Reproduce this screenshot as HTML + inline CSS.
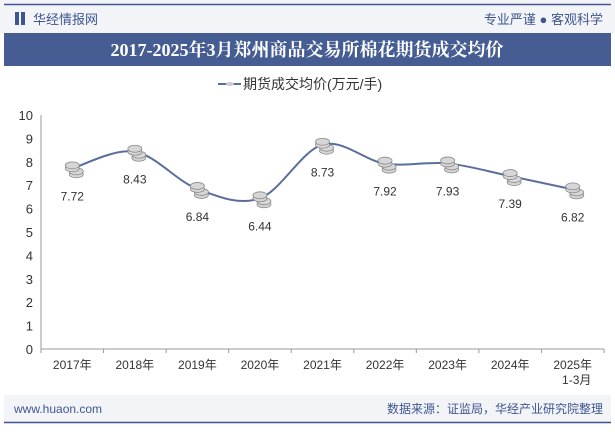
<!DOCTYPE html>
<html><head><meta charset="utf-8"><style>
body{margin:0;width:615px;height:427px;overflow:hidden;background:#fff;font-family:"Liberation Sans","Noto Sans CJK SC",sans-serif}
</style></head><body>
<svg width="615" height="427" xmlns="http://www.w3.org/2000/svg">
<rect x="0" y="0" width="615" height="33" fill="#f3f4f8"/>
<line x1="4" y1="4.5" x2="611" y2="4.5" stroke="#3e5590" stroke-width="1.5"/>
<rect x="15" y="12" width="4" height="13" fill="#3e5590"/>
<rect x="21" y="12" width="4" height="13" fill="#3e5590"/>
<text x="33" y="24" font-size="13" fill="#3e5590">华经情报网</text>
<text x="603" y="24" font-size="13" fill="#3e5590" text-anchor="end">专业严谨 ● 客观科学</text>
<rect x="4" y="33" width="607" height="33" fill="#455d93"/>
<text x="307" y="56" font-size="18" font-weight="bold" fill="#fff" text-anchor="middle" font-family="Liberation Serif,Noto Serif CJK SC,serif">2017-2025年3月郑州商品交易所棉花期货成交均价</text>
<g>
<line x1="218" y1="84" x2="241" y2="84" stroke="#5a6e9c" stroke-width="2"/>
<ellipse cx="230" cy="84" rx="4" ry="2" fill="#ccc"/>
<text x="243" y="89" font-size="14" fill="#333">期货成交均价(万元/手)</text>
</g>
<g id="axes"></g><g id="marks"></g>
<rect x="4" y="395" width="607" height="27" fill="#f3f4f8"/>
<line x1="4" y1="422.5" x2="611" y2="422.5" stroke="#3e5590" stroke-width="1.5"/>
<text x="14" y="413" font-size="12" fill="#3e5590">www.huaon.com</text>
<text x="603" y="413" font-size="12" fill="#3e5590" text-anchor="end">数据来源：证监局，华经产业研究院整理</text>
</svg>
<script>
const categories=["2017年","2018年","2019年","2020年","2021年","2022年","2023年","2024年","2025年"];
const values=[7.72,8.43,6.84,6.44,8.73,7.92,7.93,7.39,6.82];
const yTicks=[0,1,2,3,4,5,6,7,8,9,10];
const NS="http://www.w3.org/2000/svg";
const x0=41,x1=604,yb=349,yt=115,ymax=10;
const bw=(x1-x0)/categories.length;
const X=i=>x0+bw*(i+0.5);
const Y=v=>yb-(v/ymax)*(yb-yt);
function mk(t,a,p){const e=document.createElementNS(NS,t);for(const k in a)e.setAttribute(k,a[k]);p.appendChild(e);return e;}
const ax=document.getElementById('axes'),mg=document.getElementById('marks');
let l=mk('line',{x1:x0,y1:yt,x2:x0,y2:yb,stroke:'#999'},ax);


l=mk('line',{x1:x0,y1:yb,x2:x1,y2:yb,stroke:'#999'},ax);


yTicks.forEach(v=>{const t=mk('text',{x:x0-8,y:Y(v)+5,'font-size':13,fill:'#333','text-anchor':'end'},ax);t.textContent=v;

});
categories.forEach((c,i)=>{mk('line',{x1:x0+bw*i,y1:yb,x2:x0+bw*i,y2:yb+4,stroke:'#999'},ax);
const t=mk('text',{x:X(i),y:yb+20,'font-size':12,fill:'#333','text-anchor':'middle'},ax);t.textContent=c;

});
mk('line',{x1:x1,y1:yb,x2:x1,y2:yb+4,stroke:'#999'},ax);
const t2=mk('text',{x:X(8)+4,y:yb+35,'font-size':12,fill:'#333','text-anchor':'middle'},ax);t2.textContent="1-3月";
let d='';const pts=values.map((v,i)=>[X(i),Y(v)]);
d='M'+pts[0];for(let i=0;i<pts.length-1;i++){const p0=pts[i-1]||pts[i],p1=pts[i],p2=pts[i+1],p3=pts[i+2]||p2;
d+=` C${p1[0]+(p2[0]-p0[0])/6},${p1[1]+(p2[1]-p0[1])/6} ${p2[0]-(p3[0]-p1[0])/6},${p2[1]-(p3[1]-p1[1])/6} ${p2[0]},${p2[1]}`;}
l=mk('path',{d:d,fill:'none',stroke:'#5a6e9c','stroke-width':2},mg);


values.forEach((v,i)=>{const g=mk('g',{},mg);


[6,3,0,-3].forEach(o=>mk('ellipse',{cx:X(i)+(o>0?4:0),cy:Y(v)+o,rx:7,ry:3.5,fill:'#d6d6d6',stroke:'#888','stroke-width':0.8},g));
const t=mk('text',{x:X(i),y:Y(v)+32,'font-size':12,fill:'#333','text-anchor':'middle'},mg);t.textContent=v.toFixed(2);

});
</script>
</body></html>
